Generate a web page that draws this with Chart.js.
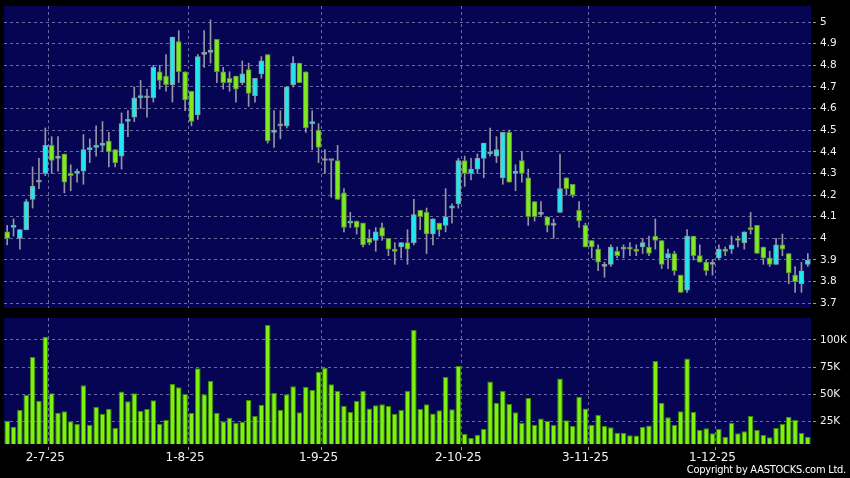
<!DOCTYPE html>
<html><head><meta charset="utf-8">
<script src="https://cdn.jsdelivr.net/npm/chart.js@4.4.1/dist/chart.umd.min.js"></script>
<style>
html,body{margin:0;padding:0;background:#000;}
#wrap{position:relative;width:850px;height:478px;overflow:hidden;background:#000;}
#pc{position:absolute;left:0;top:0;}
#vc{position:absolute;left:0;top:312px;}
#copy{position:absolute;right:4px;top:464px;font-family:"DejaVu Sans Condensed","DejaVu Sans",sans-serif;font-size:11px;letter-spacing:-0.25px;line-height:12px;color:#fff;white-space:nowrap;}
</style></head><body>
<div id="wrap">
<canvas id="pc" width="850" height="312"></canvas>
<canvas id="vc" width="850" height="166"></canvas>
<div id="copy">Copyright by AASTOCKS.com Ltd.</div>
</div>
<script>
// ---- categories: HK trading days from 23-6-25 ----
const holidays = ['2025-7-1','2025-10-1','2025-10-7','2025-10-29'];
const firstDay = [2025, 6, 23];
const dayCount = 127;
const dates = [];
(function(){
  const d = new Date(firstDay[0], firstDay[1]-1, firstDay[2]);
  while (dates.length < dayCount) {
    const wd = d.getDay();
    const key = d.getFullYear()+'-'+(d.getMonth()+1)+'-'+d.getDate();
    if (wd !== 0 && wd !== 6 && holidays.indexOf(key) < 0) {
      dates.push(d.getDate()+'-'+(d.getMonth()+1)+'-'+String(d.getFullYear()).slice(2));
    }
    d.setDate(d.getDate()+1);
  }
})();
const tickLabels = ['2-7-25','1-8-25','1-9-25','2-10-25','3-11-25','1-12-25'];

// ---- series ----
const open  = [4.03,4.05,4.00,4.04,4.18,4.26,4.30,4.43,4.37,4.39,4.30,4.30,4.31,4.41,4.42,4.43,4.45,4.41,4.38,4.54,
               4.56,4.65,4.65,4.65,4.77,4.75,4.71,4.91,4.77,4.68,4.57,4.85,4.86,4.92,4.77,4.74,4.75,4.72,4.78,4.66,
               4.76,4.85,4.49,4.52,4.52,4.71,4.81,4.77,4.53,4.50,4.36,4.36,4.36,4.21,4.07,4.08,4.07,4.00,3.99,4.05,
               4.00,3.95,3.96,3.98,3.98,4.13,4.12,4.02,4.07,4.06,4.14,4.16,4.36,4.30,4.32,4.37,4.39,4.38,4.28,4.49,
               4.30,4.36,4.28,4.17,4.11,4.10,4.06,4.12,4.28,4.25,4.13,4.06,3.99,3.95,3.87,3.88,3.94,3.95,3.96,3.95,
               3.96,3.96,4.01,3.99,3.91,3.93,3.83,3.76,4.01,3.92,3.89,3.88,3.91,3.95,3.95,4.00,3.98,4.05,4.06,3.96,
               3.91,3.88,3.97,3.93,3.83,3.79,3.88];
const high  = [4.06,4.09,4.04,4.18,4.33,4.37,4.51,4.47,4.47,4.39,4.34,4.32,4.48,4.46,4.52,4.54,4.49,4.41,4.58,4.59,
               4.70,4.73,4.69,4.80,4.80,4.85,4.93,4.96,4.77,4.68,4.85,4.96,5.01,4.92,4.79,4.77,4.75,4.82,4.81,4.74,
               4.84,4.85,4.59,4.59,4.70,4.84,4.81,4.77,4.59,4.53,4.41,4.36,4.43,4.23,4.12,4.08,4.07,4.04,4.05,4.07,
               4.00,3.98,3.98,4.04,4.18,4.13,4.14,4.09,4.07,4.23,4.16,4.37,4.38,4.37,4.39,4.44,4.51,4.47,4.49,4.50,
               4.34,4.40,4.32,4.17,4.17,4.10,4.09,4.39,4.28,4.25,4.17,4.07,3.99,3.97,3.89,3.97,3.96,3.97,3.98,3.97,
               4.00,4.01,4.09,3.99,3.95,3.94,3.83,4.04,4.01,3.97,3.90,3.90,3.97,3.96,4.01,4.01,4.03,4.12,4.06,3.96,
               3.94,4.00,4.02,3.93,3.87,3.89,3.93];
const low   = [3.97,4.01,3.95,4.04,4.14,4.23,4.29,4.30,4.31,4.21,4.22,4.26,4.25,4.35,4.38,4.40,4.33,4.33,4.32,4.47,
               4.54,4.60,4.56,4.63,4.69,4.68,4.63,4.72,4.59,4.52,4.55,4.79,4.81,4.72,4.69,4.68,4.63,4.71,4.61,4.63,
               4.74,4.44,4.42,4.46,4.51,4.70,4.72,4.49,4.41,4.35,4.30,4.19,4.18,4.03,4.05,4.02,3.96,3.97,3.94,3.99,
               3.92,3.88,3.91,3.88,3.97,4.04,3.93,3.97,4.01,4.03,4.07,4.14,4.24,4.27,4.30,4.28,4.38,4.35,4.25,4.26,
               4.22,4.26,4.06,4.08,4.10,4.03,4.00,4.12,4.20,4.19,4.05,3.96,3.91,3.85,3.82,3.87,3.91,3.91,3.92,3.92,
               3.93,3.92,3.95,3.86,3.86,3.83,3.75,3.75,3.90,3.89,3.83,3.83,3.90,3.92,3.93,3.96,3.95,4.02,3.93,3.88,
               3.87,3.88,3.92,3.79,3.75,3.75,3.87];
const close = [4.00,4.06,4.04,4.17,4.24,4.26,4.43,4.36,4.38,4.26,4.29,4.31,4.41,4.42,4.43,4.44,4.40,4.35,4.53,4.55,
               4.65,4.66,4.65,4.79,4.73,4.71,4.93,4.77,4.64,4.54,4.84,4.86,4.87,4.77,4.72,4.72,4.69,4.76,4.67,4.74,
               4.82,4.45,4.50,4.52,4.70,4.81,4.72,4.51,4.54,4.42,4.36,4.36,4.18,4.05,4.08,4.05,3.97,3.98,4.03,4.01,
               3.95,3.94,3.98,3.95,4.11,4.10,4.02,4.09,4.04,4.10,4.15,4.36,4.30,4.32,4.37,4.44,4.40,4.41,4.49,4.26,
               4.31,4.30,4.10,4.10,4.12,4.06,4.06,4.23,4.23,4.20,4.08,3.96,3.96,3.89,3.88,3.96,3.92,3.95,3.95,3.94,
               3.98,3.93,3.99,3.88,3.93,3.85,3.75,4.01,3.92,3.89,3.85,3.88,3.95,3.94,3.97,3.99,4.03,4.04,3.93,3.91,
               3.88,3.97,3.95,3.84,3.80,3.85,3.90];
const volume = [25600,20400,35700,49800,84400,44300,103000,51000,33300,34500,25300,22900,58400,22200,38500,32300,36900,19200,52800,43700,
                51000,34800,36600,44600,22900,26500,59900,56500,50400,32900,74000,50100,62600,33300,25300,28700,24100,24700,44900,30200,
                40600,113700,51300,36000,50100,57500,33600,57100,54100,70900,74600,59300,53100,39700,33900,44000,53100,37200,40000,40900,
                39400,32300,35700,53100,109100,36600,40900,32600,35400,66000,36300,76100,13700,10000,13100,18500,62000,42400,53100,41200,
                33600,24100,46700,22200,28000,25600,21900,64700,26200,21000,47900,37200,22200,31100,21000,19800,14900,14900,12500,12200,
                20400,21600,80700,42400,29000,21900,34500,83100,33900,17400,18900,14300,18300,11200,23800,14300,16100,30200,17400,12800,
                10600,19200,22900,29300,26500,14600,11200];

// ---- tick labels ----
const priceTicks = [3.7,3.8,3.9,4.0,4.1,4.2,4.3,4.4,4.5,4.6,4.7,4.8,4.9,5.0];
const volTicks = [25000,50000,75000,100000];
const volTickLabels = ['25K','50K','75K','100K'];

// ---- styles ----
const NAVY = '#050553';
const GRID = '#6a6aa4';
const TICKC = '#9a9a9a';
const TXT = '#f2f2f2';
const UP = '#20e6f0', UP_B = '#8a98a0';
const DN = '#7eea22', DN_B = '#62903e';
const FLAT = '#b4b4b4', FLAT_B = '#8a8a8a';

const labelIdx = new Set(dates.map((d,i)=>tickLabels.includes(d)?i:-1).filter(i=>i>=0));
const gridIdx = new Set([...labelIdx].map(i=>i+1));

const areaBg = { id:'areaBg', beforeDraw(c){ const a=c.chartArea, ctx=c.ctx; ctx.save(); ctx.fillStyle=NAVY; ctx.fillRect(a.left,a.top,a.right-a.left,a.bottom-a.top); ctx.restore(); } };

const bodyColor = open.map((o,i)=> close[i]>o?UP:(close[i]<o?DN:FLAT));
const bodyBorder = open.map((o,i)=> close[i]>o?UP_B:(close[i]<o?DN_B:FLAT_B));

const xGrid = { offset:true, color:c=>gridIdx.has(c.index)?GRID:'rgba(0,0,0,0)', lineWidth:1 };
const noPad = s => { s.paddingTop = 0; s.paddingBottom = 0; s.paddingLeft = 0; s.paddingRight = 0; };

new Chart(document.getElementById('pc'), {
  type:'bar',
  data:{ labels:dates, datasets:[
    { data: open.map((o,i)=>[o, close[i]]), backgroundColor:bodyColor, borderColor:bodyBorder, borderWidth:1, borderSkipped:false, barThickness:5, minBarLength:2, grouped:false, order:0 },
    { data: low.map((l,i)=>[l, high[i]]), backgroundColor:'#9494a4', borderWidth:0, barThickness:1, grouped:false, order:1 }
  ]},
  plugins:[areaBg],
  options:{
    responsive:false, animation:false, devicePixelRatio:1,
    layout:{ autoPadding:false, padding:{left:4, top:6, right:0, bottom:4} },
    plugins:{ legend:{display:false}, tooltip:{enabled:false} },
    scales:{
      x:{ type:'category', offset:true, grid:Object.assign({drawTicks:false}, xGrid), border:{display:false, dash:[3,3]}, ticks:{display:false}, afterFit:s=>{s.height=0; noPad(s);} },
      y:{ position:'right', min:3.678, max:5.074,
          afterBuildTicks:s=>{ s.ticks = priceTicks.map(v=>({value:v})); },
          afterFit:s=>{ s.width=39; noPad(s); },
          grid:{ color:GRID, drawTicks:true, tickLength:6, tickColor:TICKC, tickBorderDash:[0,2,3,50] },
          border:{ display:false, dash:[3,3] },
          ticks:{ color:TXT, padding:3, font:{family:'DejaVu Sans', size:10.5}, callback:v=>String(Math.round(v*10)/10) } }
    }
  }
});

new Chart(document.getElementById('vc'), {
  type:'bar',
  data:{ labels:dates, datasets:[
    { data: volume, backgroundColor:'#7ef20c', borderColor:'#3d8a00', borderWidth:1, borderSkipped:false, barPercentage:0.88, categoryPercentage:1, clip:0 }
  ]},
  plugins:[areaBg],
  options:{
    responsive:false, animation:false, devicePixelRatio:1,
    layout:{ autoPadding:false, padding:{left:4, top:6, right:0, bottom:0} },
    plugins:{ legend:{display:false}, tooltip:{enabled:false} },
    scales:{
      x:{ type:'category', offset:true,
          grid:Object.assign({drawTicks:true, tickLength:6, tickColor:c=>gridIdx.has(c.index)?TICKC:'rgba(0,0,0,0)', tickBorderDash:[0,3,3,50]}, xGrid),
          border:{display:false, dash:[3,3]},
          ticks:{ autoSkip:false, maxRotation:0, minRotation:0, padding:1, color:TXT, font:{family:'DejaVu Sans', size:12},
                  callback:(v,i)=> labelIdx.has(i)?dates[i]:'' },
          afterFit:s=>{s.height=34; noPad(s);} },
      y:{ position:'right', min:4500, max:120200,
          afterBuildTicks:s=>{ s.ticks = volTicks.map(v=>({value:v})); },
          afterFit:s=>{ s.width=39; noPad(s); },
          grid:{ color:GRID, drawTicks:true, tickLength:6, tickColor:TICKC, tickBorderDash:[0,2,3,50] },
          border:{ display:false, dash:[3,3] },
          ticks:{ color:TXT, padding:3, font:{family:'DejaVu Sans', size:10.5}, callback:v=>volTickLabels[volTicks.indexOf(v)] } }
    }
  }
});
</script>
</body></html>
